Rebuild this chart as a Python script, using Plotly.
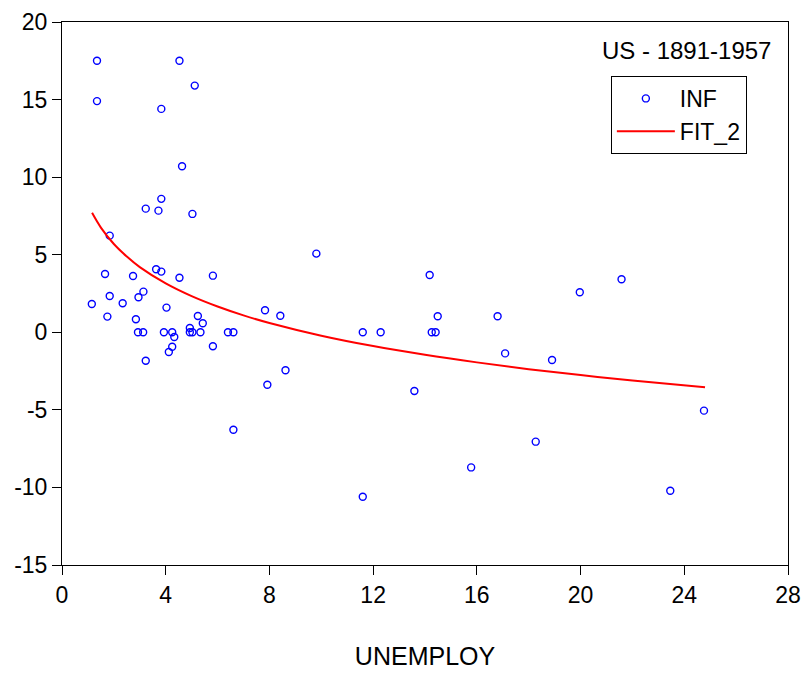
import plotly.graph_objects as go

unemploy = [1.35, 1.35, 4.53, 5.12, 3.83, 4.63, 3.83, 3.23, 3.72, 5.03,
            1.84, 1.66, 2.74, 3.63, 3.83, 4.53, 5.82, 3.14, 2.95, 1.84,
            1.15, 2.34, 4.03, 1.75, 2.85, 5.24, 5.43, 4.93, 4.93, 5.03,
            5.34, 2.93, 3.13, 3.93, 4.25, 6.40, 6.61, 4.33, 4.25, 4.12,
            5.82, 3.23,
            9.81, 14.18, 7.83, 8.42, 11.6, 12.29, 14.26, 14.41, 14.49, 8.62,
            7.92, 6.61, 11.6, 13.59,
            16.8, 19.97, 21.58, 17.09, 18.9, 18.27, 15.78, 23.46, 24.76]
inf = [17.5, 14.9, 17.5, 15.9, 14.4, 10.7, 8.6, 7.97, 7.84, 7.63,
       6.23, 3.76, 3.63, 4.06, 3.91, 3.52, 3.65, 2.62, 2.26, 2.34,
       1.82, 1.87, 1.59, 1.01, 0.84, 1.05, 0.58, 0.28, 0.0, 0.0,
       0.0, 0.0, 0.0, 0.0, 0.0, 0.0, 0.0, -0.3, -0.93, -1.27,
       -0.9, -1.83,
       5.07, 3.69, 1.42, 1.07, 0.0, 0.0, 0.0, 0.0, 1.03, -2.45,
       -3.38, -6.28, -10.6, -3.78,
       1.03, 2.58, 3.42, -1.36, -1.79, -7.05, -8.71, -10.21, -5.05]

# Fitted curve
fit_x = [1.16, 1.5, 2, 2.5, 3, 4, 5, 6, 7, 8, 10, 12, 14, 16, 18, 20, 22, 24.8]
fit_y = [7.70, 6.75, 5.69, 4.88, 4.20, 3.15, 2.33, 1.66, 1.09, 0.60,
         -0.22, -0.89, -1.45, -1.94, -2.38, -2.76, -3.11, -3.55]

x_ticks = [0, 4, 8, 12, 16, 20, 24, 28]
x_tick_text = ["0", "4", "8", "12", "16", "20", "24", "28"]
y_ticks = [-15, -10, -5, 0, 5, 10, 15, 20]
y_tick_text = ["-15", "-10", "-5", "0", "5", "10", "15", "20"]

FONT = "Arial, Liberation Sans, sans-serif"

fig = go.Figure()
fig.add_trace(go.Scatter(
    x=unemploy, y=inf, mode="markers", name="INF",
    marker=dict(symbol="circle-open", size=7, color="#0000FF",
                line=dict(width=1.4, color="#0000FF")),
))
fig.add_trace(go.Scatter(
    x=fit_x, y=fit_y, mode="lines", name="FIT_2",
    line=dict(color="#FF0000", width=2, shape="spline"),
))

fig.update_layout(
    width=801, height=674,
    margin=dict(l=62, r=13, t=22, b=109),
    paper_bgcolor="white", plot_bgcolor="white",
    font=dict(family=FONT, size=23, color="black"),
    showlegend=True,
    legend=dict(x=0.756, y=0.9006, xanchor="left", yanchor="top",
                bordercolor="black", borderwidth=1, bgcolor="white",
                font=dict(family=FONT, size=23, color="black"),
                tracegroupgap=0, itemwidth=58),
    annotations=[dict(text="US - 1891-1957", x=0.979, y=0.9466,
                      xref="paper", yref="paper", xanchor="right",
                      yanchor="middle", showarrow=False,
                      font=dict(family=FONT, size=24, color="black"))],
)
fig.update_xaxes(range=[0, 28], tickvals=x_ticks, ticktext=x_tick_text,
                 ticks="outside", ticklen=9, tickcolor="black",
                 ticklabeloverflow="allow",
                 showline=True, linecolor="black", automargin=False,
                 linewidth=1, mirror=True, showgrid=False, zeroline=False,
                 title=dict(text="UNEMPLOY", standoff=40,
                            font=dict(family=FONT, size=25)))
fig.update_yaxes(range=[-15, 20], tickvals=y_ticks, ticktext=y_tick_text,
                 ticks="outside", ticklen=9, tickcolor="black",
                 ticklabeloverflow="allow",
                 showline=True, linecolor="black", automargin=False,
                 linewidth=1, mirror=True, showgrid=False, zeroline=False)

# remove the default page margin so the figure fills the window exactly
fig.write_html("out.html",
               config={"displayModeBar": False},
               post_script="document.body.style.margin='0';"
                           "document.body.style.overflow='hidden';")
